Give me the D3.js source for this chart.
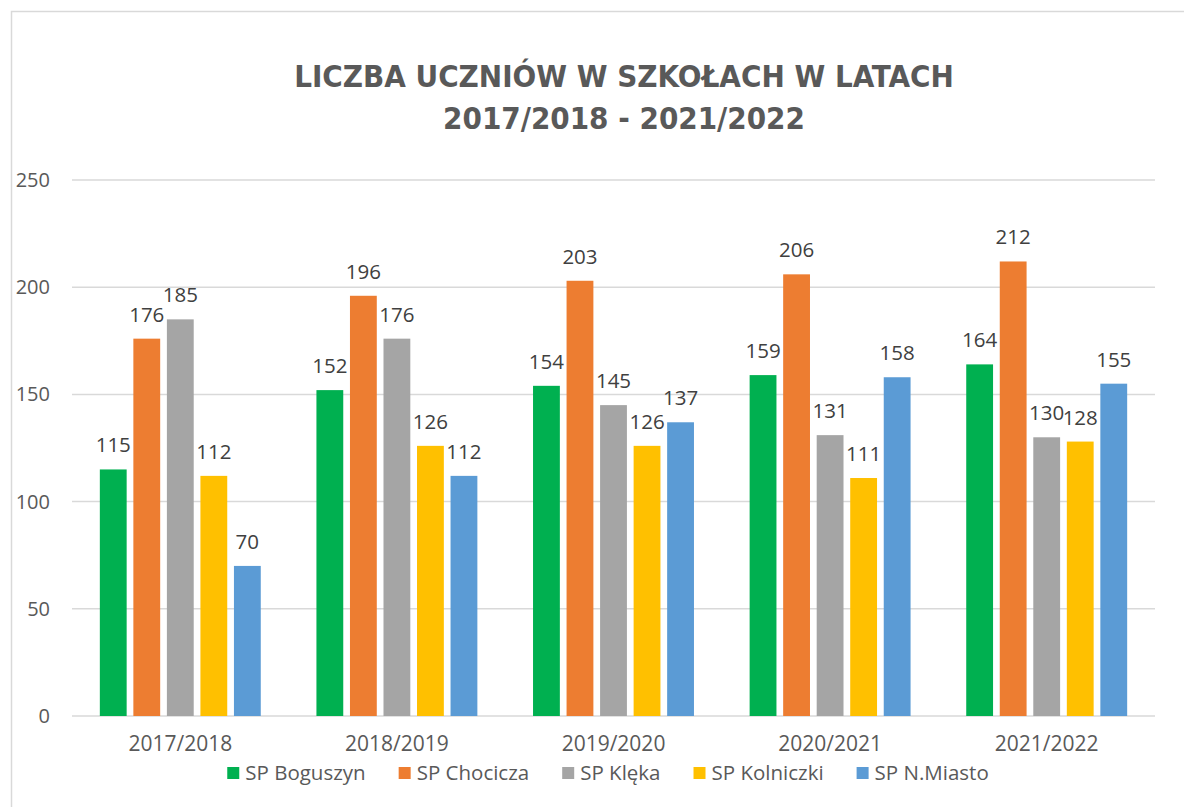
<!DOCTYPE html>
<html>
<head>
<meta charset="utf-8">
<script src="https://cdn.jsdelivr.net/npm/d3@7"></script>
<style>
  body { margin: 0; background: #fff; }
  text { font-family: "Open Sans", sans-serif; }
</style>
</head>
<body>
<div id="chart"></div>
<script>
// dane
var years = ["2017/2018", "2018/2019", "2019/2020", "2020/2021", "2021/2022"];
var schools = ["SP Boguszyn", "SP Chocicza", "SP Klęka", "SP Kolniczki", "SP N.Miasto"];
var boguszyn  = [115, 152, 154, 159, 164];
var chocicza  = [176, 196, 203, 206, 212];
var kleka     = [185, 176, 145, 131, 130];
var kolniczki = [112, 126, 126, 111, 128];
var nmiasto   = [70, 112, 137, 158, 155];
var yTicks = [0, 50, 100, 150, 200, 250];

var series = [boguszyn, chocicza, kleka, kolniczki, nmiasto];
var colors = ["#00b050", "#ed7d31", "#a5a5a5", "#ffc000", "#5b9bd5"];

var W = 1184, H = 807;
var margin = {top: 180, right: 29, bottom: 91, left: 72};
var width = W - margin.left - margin.right;
var height = H - margin.top - margin.bottom;

var svg = d3.select("#chart").append("svg")
    .attr("width", W)
    .attr("height", H);

// ramka
svg.append("rect")
    .attr("x", 11.5).attr("y", 11.5)
    .attr("width", W + 20).attr("height", H + 20)
    .attr("fill", "none")
    .attr("stroke", "#d9d9d9")
    .attr("stroke-width", 1.5);

// tytuł
var title = svg.append("text")
    .attr("text-anchor", "middle")
    .attr("fill", "#595959")
    .style("font-family", "'Liberation Sans Narrow', 'DejaVu Sans Condensed', sans-serif")
    .style("font-weight", "bold")
    .style("font-size", "31px");
title.append("tspan").attr("x", 624).attr("y", 87).text("LICZBA UCZNIÓW W SZKOŁACH W LATACH");
title.append("tspan").attr("x", 624).attr("y", 129).text("2017/2018 - 2021/2022");

var g = svg.append("g")
    .attr("transform", "translate(" + margin.left + "," + margin.top + ")");

var x0 = d3.scaleBand()
    .domain(years)
    .range([0, width])
    .paddingInner(0.257)
    .paddingOuter(0.1285);

var x1 = d3.scaleBand()
    .domain(d3.range(schools.length))
    .range([0, x0.bandwidth()])
    .paddingInner(0.2)
    .paddingOuter(0);

var y = d3.scaleLinear()
    .domain([0, 250])
    .range([height, 0]);

// siatka
g.selectAll(".grid")
    .data(yTicks)
    .enter().append("line")
    .attr("x1", 0).attr("x2", width)
    .attr("y1", function(d) { return y(d); })
    .attr("y2", function(d) { return y(d); })
    .attr("stroke", "#d9d9d9")
    .attr("stroke-width", 1.5);

// oś Y
var yAxis = d3.axisLeft(y).tickValues(yTicks).tickSize(0).tickPadding(22);
g.append("g")
    .call(yAxis)
    .call(function(a) { a.select(".domain").remove(); })
    .selectAll("text")
    .attr("fill", "#595959")
    .style("font-size", "20px")
    .style("font-family", "'Open Sans', sans-serif");

// słupki
var groups = g.selectAll(".year")
    .data(years)
    .enter().append("g")
    .attr("transform", function(d) { return "translate(" + x0(d) + ",0)"; });

groups.selectAll("rect")
    .data(function(d, i) { return series.map(function(s, k) { return {k: k, v: s[i]}; }); })
    .enter().append("rect")
    .attr("x", function(d) { return x1(d.k); })
    .attr("width", x1.bandwidth())
    .attr("y", function(d) { return y(d.v); })
    .attr("height", function(d) { return height - y(d.v); })
    .attr("fill", function(d) { return colors[d.k]; });

groups.selectAll(".lbl")
    .data(function(d, i) { return series.map(function(s, k) { return {k: k, v: s[i]}; }); })
    .enter().append("text")
    .attr("x", function(d) { return x1(d.k) + x1.bandwidth() / 2; })
    .attr("y", function(d) { return y(d.v) - 17; })
    .attr("text-anchor", "middle")
    .attr("fill", "#404040")
    .style("font-size", "20.5px")
    .text(function(d) { return d.v; });

// oś X
var xAxis = d3.axisBottom(x0).tickSize(0).tickPadding(20);
g.append("g")
    .attr("transform", "translate(0," + height + ")")
    .call(xAxis)
    .call(function(a) { a.select(".domain").remove(); })
    .selectAll("text")
    .attr("fill", "#595959")
    .style("font-size", "21px")
    .style("font-family", "'Open Sans', sans-serif");

// legenda
var legend = svg.append("g").attr("transform", "translate(0,773)");
var items = legend.selectAll(".item")
    .data(schools)
    .enter().append("g");
items.append("rect")
    .attr("width", 12).attr("height", 12)
    .attr("y", -6)
    .attr("fill", function(d, i) { return colors[i]; });
items.append("text")
    .attr("x", 18)
    .attr("y", 7)
    .attr("fill", "#595959")
    .style("font-size", "20.5px")
    .text(function(d) { return d; });

var widths = [];
items.each(function() { widths.push(this.getBBox().width); });
var gap = 33;
var total = d3.sum(widths) + gap * (widths.length - 1);
var cx = 608;
var pos = cx - total / 2;
items.attr("transform", function(d, i) {
    var p = pos;
    pos += widths[i] + gap;
    return "translate(" + p + ",0)";
});
</script>
</body>
</html>
